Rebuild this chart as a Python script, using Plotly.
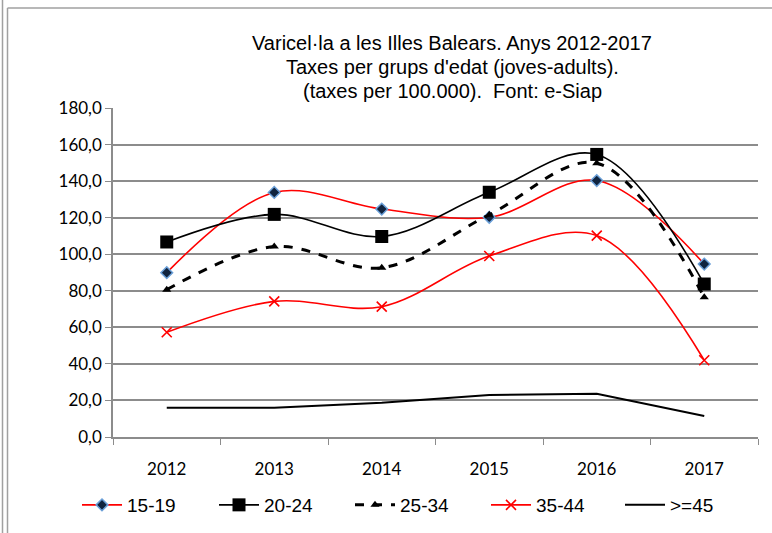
import plotly.graph_objects as go

years = ["2012", "2013", "2014", "2015", "2016", "2017"]
s15_19 = [89.9, 133.8, 124.7, 120.2, 140.3, 94.6]
s20_24 = [106.7, 121.8, 109.7, 133.9, 154.6, 83.7]
s25_34 = [80.6, 104.2, 92.6, 121.6, 149.8, 76.5]
s35_44 = [57.3, 74.2, 71.3, 99.0, 110.2, 42.0]
s45 = [16.0, 16.0, 18.8, 23.0, 23.7, 11.5]

title_lines = ["Varicel·la a les Illes Balears. Anys 2012-2017",
               "Taxes per grups d'edat (joves-adults).",
               "(taxes per 100.000).  Font: e-Siap"]

W, H = 772, 533
L, R, T, B = 113, 14, 108, 96
pw, ph = W - L - R, H - T - B

def px(x):
    return (x - L) / pw

def py(y):
    return (H - B - y) / ph

narrow = "Liberation Sans Narrow, Arial Narrow, Liberation Sans, sans-serif"
tickfont = "Lato, Carlito, Calibri, sans-serif"

fig = go.Figure()
fig.add_trace(go.Scatter(x=years, y=s15_19, name="15-19", mode="lines+markers", legend="legend",
                         line=dict(color="#ff0000", width=1.6, shape="spline", smoothing=1.0),
                         marker=dict(symbol="diamond", size=9, color="#10243f",
                                     line=dict(color="#6a9fd8", width=1.5))))
fig.add_trace(go.Scatter(x=years, y=s20_24, name="20-24", mode="lines+markers", legend="legend2",
                         line=dict(color="#000000", width=1.6, shape="spline", smoothing=1.0),
                         marker=dict(symbol="square", size=13, color="#000000")))
fig.add_trace(go.Scatter(x=years, y=s25_34, name="25-34", mode="lines+markers", legend="legend3",
                         line=dict(color="#000000", width=3, dash="dash", shape="spline", smoothing=1.0),
                         marker=dict(symbol="triangle-up", size=8, color="#000000")))
fig.add_trace(go.Scatter(x=years, y=s35_44, name="35-44", mode="lines+markers", legend="legend4",
                         line=dict(color="#ff0000", width=1.6, shape="spline", smoothing=1.0),
                         marker=dict(symbol="x-thin", size=10, color="#ff0000",
                                     line=dict(color="#ff0000", width=1.6))))
fig.add_trace(go.Scatter(x=years, y=s45, name=">=45", mode="lines", legend="legend5",
                         line=dict(color="#000000", width=2)))

grey = "#8c8c8c"
shapes = [
    dict(type="line", xref="paper", yref="paper", x0=px(2.5), x1=px(2.5), y0=py(0), y1=py(H),
         line=dict(color="#a0a0a0", width=1.5)),
    dict(type="line", xref="paper", yref="paper", x0=px(7.5), x1=px(7.5), y0=py(8), y1=py(H),
         line=dict(color="#a0a0a0", width=1.5)),
    dict(type="line", xref="paper", yref="paper", x0=px(7.5), x1=px(W), y0=py(8), y1=py(8),
         line=dict(color="#a0a0a0", width=1.5)),
]

annotations = []
for i, t in enumerate(title_lines):
    annotations.append(dict(text=t, xref="paper", yref="paper", x=px(452), y=py(43 + 24 * i),
                            xanchor="center", yanchor="middle", showarrow=False,
                            font=dict(family=narrow, size=20, color="#000000")))

legend_x = [77, 214, 350, 486, 620]
legends = {}
for i, lx in enumerate(legend_x):
    key = "legend" if i == 0 else f"legend{i + 1}"
    legends[key] = dict(orientation="h", x=px(lx), xanchor="left", y=py(505), yanchor="middle",
                        font=dict(family=narrow, size=19, color="#000000"),
                        itemwidth=40, bgcolor="rgba(0,0,0,0)")

fig.update_layout(
    width=W, height=H,
    margin=dict(l=L, r=R, t=T, b=B, autoexpand=False),
    paper_bgcolor="white", plot_bgcolor="white",
    separators=",.",
    showlegend=True,
    shapes=shapes,
    annotations=annotations,
    xaxis=dict(type="category", tickson="boundaries", ticks="outside", ticklen=6,
               tickcolor=grey, showline=True, linecolor=grey, linewidth=1.5,
               showgrid=False, tickfont=dict(family=tickfont, size=17, color="#000000"),
               ticklabelstandoff=16, range=[-0.5, 5.5]),
    yaxis=dict(range=[0, 180], dtick=20, tickformat=".1f", ticks="outside", ticklen=6,
               tickcolor=grey, showline=True, linecolor=grey, linewidth=1.5,
               showgrid=True, gridcolor=grey, gridwidth=1.5, zeroline=False,
               tickfont=dict(family=tickfont, size=17, color="#000000")),
    **legends,
)

fig.write_html("out.html", config={"displayModeBar": False},
               post_script="document.body.style.margin='0';document.body.style.overflow='hidden';")
